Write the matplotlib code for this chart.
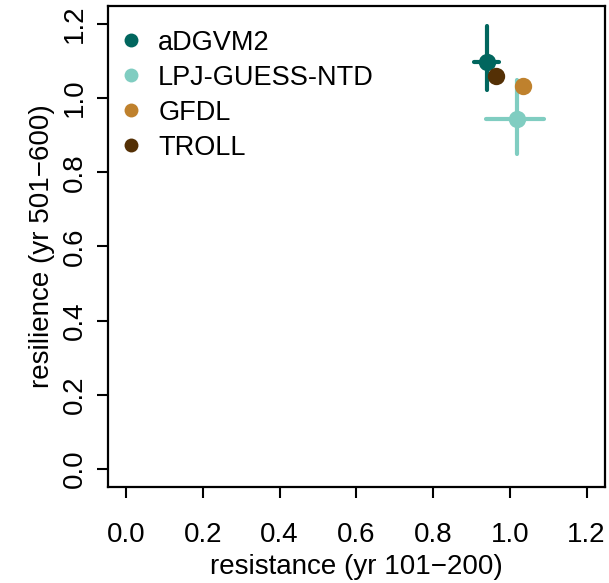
import matplotlib
matplotlib.use("Agg")
import matplotlib.pyplot as plt
from matplotlib.lines import Line2D

plt.rcParams['font.family'] = ['Liberation Sans', 'DejaVu Sans']

models = ["aDGVM2", "LPJ-GUESS-NTD", "GFDL", "TROLL"]
colors = ["#01665e", "#80cdc1", "#bf812d", "#543005"]
resistance = [0.941, 1.019, 1.035, 0.965]
resistance_lo = [0.908, 0.938, 1.035, 0.965]
resistance_hi = [0.971, 1.088, 1.035, 0.965]
resilience = [1.098, 0.943, 1.034, 1.060]
resilience_lo = [1.022, 0.850, 1.034, 1.060]
resilience_hi = [1.195, 1.049, 1.034, 1.060]
ticks = [0.0, 0.2, 0.4, 0.6, 0.8, 1.0, 1.2]

fig = plt.figure(figsize=(6.09, 5.83), dpi=100)
ax = fig.add_axes([0.1767, 0.165, 0.8167, 0.8244])

for i in range(len(models)):
    x, y = resistance[i], resilience[i]
    if resistance_hi[i] > resistance_lo[i]:
        ax.plot([resistance_lo[i], resistance_hi[i]], [y, y], color=colors[i],
                lw=3.0, solid_capstyle='round', zorder=2 + i)
        ax.plot([x, x], [resilience_lo[i], resilience_hi[i]], color=colors[i],
                lw=3.0, solid_capstyle='round', zorder=2 + i)
    ax.plot(x, y, 'o', color=colors[i], ms=12.5, mec='none', zorder=2 + i)

ax.set_xlim(-0.048, 1.248)
ax.set_ylim(-0.048, 1.248)
ax.set_xticks(ticks)
ax.set_yticks(ticks)
ax.set_xticklabels(["%.1f" % t for t in ticks], fontsize=20)
ax.set_yticklabels(["%.1f" % t for t in ticks], fontsize=20, rotation=90, va='center')
ax.tick_params(length=8, width=1.5)
ax.tick_params(axis='x', pad=17)
ax.tick_params(axis='y', pad=6.5)
for s in ax.spines.values():
    s.set_linewidth(1.6)

ax.set_xlabel("resistance (yr 101\u2212200)", fontsize=20, labelpad=4.5)
ax.set_ylabel("resilience (yr 501\u2212600)", fontsize=20, labelpad=5)

handles = [Line2D([], [], ls='none', marker='o', color=c, ms=10, mec='none') for c in colors]
ax.legend(handles, models, loc='upper left', bbox_to_anchor=(-0.018, 0.99),
          frameon=False, fontsize=19.5, handlelength=1.0, handletextpad=0.5,
          labelspacing=0.33, borderaxespad=0.3)

fig.savefig("out.png", dpi=100)
